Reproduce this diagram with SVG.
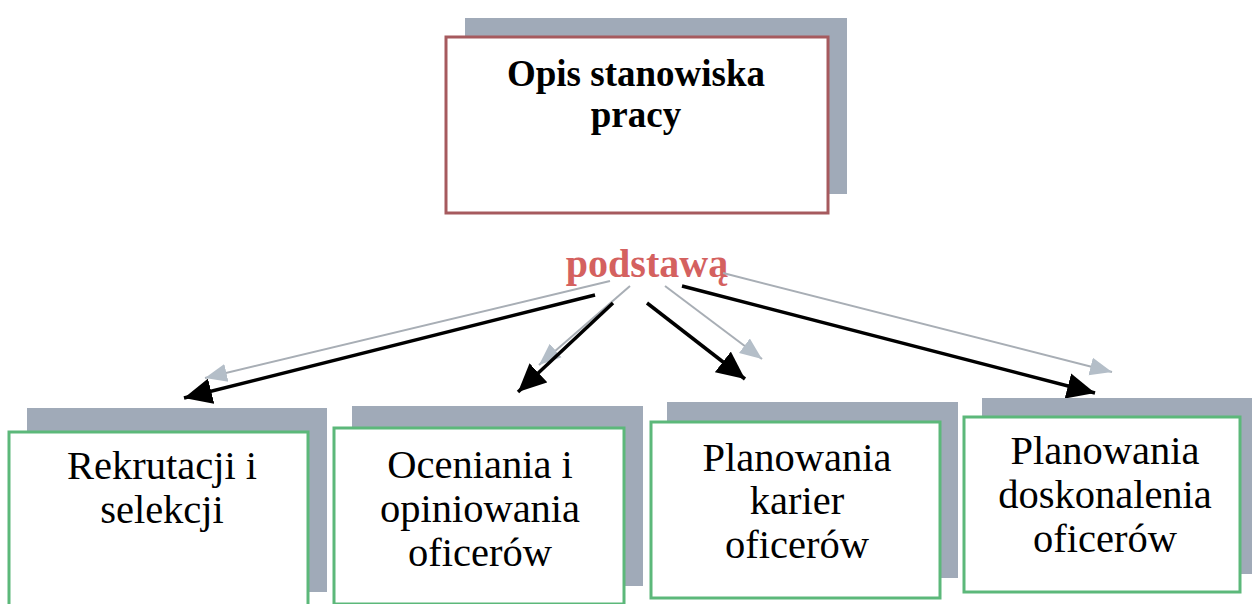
<svg xmlns="http://www.w3.org/2000/svg" width="1252" height="604" viewBox="0 0 1252 604">
<style>
.shadow{fill:#a0aab8}
.top{fill:#fff;stroke:#a65a5e;stroke-width:3}
.box{fill:#fff;stroke:#5cb87a;stroke-width:3}
.t1{font-family:"Liberation Serif",serif;font-weight:bold;font-size:37px;fill:#000;text-anchor:middle}
.t2{font-family:"Liberation Serif",serif;font-size:40.5px;fill:#000;text-anchor:middle}
.lbl{font-family:"Liberation Serif",serif;font-weight:bold;font-size:40px;fill:#d4615f;text-anchor:middle}
.blk{stroke:#000;stroke-width:3.5;fill:none;marker-end:url(#hb)}
.gry{stroke:#a8aeb5;stroke-width:2;fill:none;marker-end:url(#hg)}
</style>
<defs>
<marker id="hb" markerUnits="userSpaceOnUse" markerWidth="30" markerHeight="26" refX="28" refY="13" orient="auto" viewBox="0 0 30 26">
<path d="M0,0 L28,13 L0,26 Z" fill="#000"/>
</marker>
<marker id="hg" markerUnits="userSpaceOnUse" markerWidth="24" markerHeight="20" refX="22" refY="9" orient="auto" viewBox="0 0 24 18">
<path d="M0,0 L22,9 L0,18 Z" fill="#b4bec8"/>
</marker>
</defs>
<g id="node-top">
<rect class="shadow" x="465" y="18" width="382" height="176"/>
<rect class="top" x="446" y="37" width="382" height="176"/>
<text class="t1" x="636" y="86">Opis stanowiska</text>
<text class="t1" x="636" y="127">pracy</text>
</g>
<g id="label-podstawa">
<text class="lbl" x="647" y="277">podstawą</text>
</g>
<g id="connectors">
<line class="gry" x1="610" y1="281" x2="205" y2="378"/>
<line class="blk" x1="595" y1="295" x2="184" y2="398"/>
<line class="gry" x1="630" y1="286" x2="539" y2="365"/>
<line class="blk" x1="613" y1="303" x2="518" y2="392"/>
<line class="blk" x1="647" y1="303" x2="745" y2="379"/>
<line class="gry" x1="665" y1="286" x2="762" y2="359"/>
<line class="blk" x1="682" y1="286" x2="1095" y2="393"/>
<line class="gry" x1="723" y1="273" x2="1112" y2="372"/>
</g>
<g id="node-rekrutacji">
<rect class="shadow" x="27" y="408" width="300" height="184"/>
<rect class="box" x="9" y="432" width="299" height="180"/>
<text class="t2" x="162" y="479">Rekrutacji i</text>
<text class="t2" x="162" y="523">selekcji</text>
</g>
<g id="node-oceniania">
<rect class="shadow" x="352" y="406" width="291" height="180"/>
<rect class="box" x="334" y="428" width="290" height="176"/>
<text class="t2" x="480" y="478">Oceniania i</text>
<text class="t2" x="480" y="522">opiniowania</text>
<text class="t2" x="480" y="566">oficerów</text>
</g>
<g id="node-kariery">
<rect class="shadow" x="667" y="402" width="291" height="176"/>
<rect class="box" x="651" y="422" width="289" height="176"/>
<text class="t2" x="797" y="471">Planowania</text>
<text class="t2" x="797" y="514">karier</text>
<text class="t2" x="797" y="558">oficerów</text>
</g>
<g id="node-doskonalenia">
<rect class="shadow" x="982" y="398" width="280" height="176"/>
<rect class="box" x="964" y="417" width="276" height="175"/>
<text class="t2" x="1105" y="464">Planowania</text>
<text class="t2" x="1105" y="508">doskonalenia</text>
<text class="t2" x="1105" y="552">oficerów</text>
</g>
</svg>
